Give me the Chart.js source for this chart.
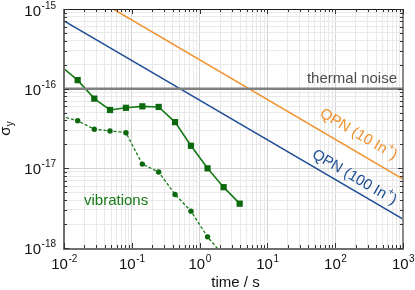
<!DOCTYPE html>
<html><head><meta charset="utf-8">
<script src="https://cdn.jsdelivr.net/npm/chart.js@4"></script>
<style>html,body{margin:0;padding:0;background:#fff;overflow:hidden}#c{display:block}</style>
</head><body>
<canvas id="c" width="415" height="290"></canvas>
<script>
// ---- data ----
const vibTime      = [0.0091, 0.0159, 0.028, 0.0477, 0.082, 0.143, 0.249, 0.434, 0.746, 1.31, 2.26, 3.90];
const vibSolid     = [1.9e-16, 1.28e-16, 7.5e-17, 5.4e-17, 5.75e-17, 6.0e-17, 5.9e-17, 3.8e-17, 1.92e-17, 1.0e-17, 5.8e-18, 3.6e-18];
const vibDashTime  = [0.0091, 0.0159, 0.028, 0.0477, 0.082, 0.143, 0.249, 0.434, 0.746, 1.31, 2.26];
const vibDashed    = [4.5e-17, 3.95e-17, 3.1e-17, 2.95e-17, 2.8e-17, 1.13e-17, 9.0e-18, 4.7e-18, 2.9e-18, 1.38e-18, 8.0e-19];
const qpnTime      = [0.01, 1000];
const qpn10        = [2.3e-15, 7.3e-18];
const qpn100       = [7.1e-16, 2.3e-18];
const thermalTime  = [0.01, 1000];
const thermal      = [1e-16, 1e-16];
const xDecades     = [-2, -1, 0, 1, 2, 3];
const yDecades     = [-18, -17, -16, -15];
const mantissas    = [1, 2, 3, 4, 5, 6, 7, 8, 9];
const xTitle = 'time / s';
const yTitleMain = 'σ', yTitleSub = 'y';
const labelThermal = 'thermal noise';
const labelVib = 'vibrations';
const labelQ10 = ['QPN (10 In', '+', ')'];
const labelQ100 = ['QPN (100 In', '+', ')'];

const GREEN = '#167a16', GREEN_M = '#0c680c', ORANGE = '#f0902c', BLUE = '#1d4d94', GRAY = '#808080';
const FONT = '"Liberation Sans", Arial, Helvetica, sans-serif';

function pts(xs, ys) { return xs.map((x, i) => ({x, y: ys[i]})); }
function tickList(decs) {
  const out = [];
  for (let i = 0; i < decs.length; i++) {
    const d = decs[i];
    if (i === decs.length - 1) { out.push({value: Math.pow(10, d)}); break; }
    mantissas.forEach(m => out.push({value: m * Math.pow(10, d)}));
  }
  return out;
}
function isDecade(v) { const l = Math.log10(v); return Math.abs(l - Math.round(l)) < 1e-6; }

const decor = {
  id: 'decor',
  afterDraw(chart) {
    const ctx = chart.ctx, xs = chart.scales.x, ys = chart.scales.y, a = chart.chartArea;
    ctx.save();
    // frame
    ctx.lineCap = 'butt';
    ctx.strokeStyle = '#707070'; ctx.lineWidth = 2;
    ctx.beginPath(); ctx.moveTo(a.left, a.top); ctx.lineTo(a.left, a.bottom + 1); ctx.lineTo(a.right + 1, a.bottom + 1); ctx.stroke();
    ctx.strokeStyle = '#8a8a8a';
    ctx.beginPath(); ctx.moveTo(a.right + 0, a.top); ctx.lineTo(a.right, a.bottom); ctx.stroke();
    ctx.strokeStyle = '#1a1a1a'; ctx.lineWidth = 1;
    ctx.beginPath(); ctx.moveTo(a.left, a.top + 0.5); ctx.lineTo(a.right + 1, a.top + 0.5); ctx.stroke();
    // inner tick marks
    ctx.strokeStyle = '#333'; ctx.lineWidth = 1;
    ctx.beginPath();
    xs.ticks.forEach(t => {
      const px = Math.round(xs.getPixelForValue(t.value)) + 0.5;
      const L = isDecade(t.value) ? 5 : 3;
      ctx.moveTo(px, a.bottom); ctx.lineTo(px, a.bottom - L);
      ctx.moveTo(px, a.top); ctx.lineTo(px, a.top + L);
    });
    ys.ticks.forEach(t => {
      const py = Math.round(ys.getPixelForValue(t.value)) + 0.5;
      const L = isDecade(t.value) ? 5 : 3;
      ctx.moveTo(a.left, py); ctx.lineTo(a.left + L, py);
      ctx.moveTo(a.right, py); ctx.lineTo(a.right - L, py);
    });
    ctx.stroke();
    // tick labels
    ctx.fillStyle = '#111';
    ctx.textBaseline = 'alphabetic'; ctx.textAlign = 'left';
    xDecades.forEach(d => {
      const px = xs.getPixelForValue(Math.pow(10, d));
      ctx.font = '15px ' + FONT; const w1 = ctx.measureText('10').width;
      ctx.font = '10px ' + FONT; const e = String(d); const w2 = ctx.measureText(e).width;
      const s = px - (w1 + w2) / 2;
      ctx.font = '15px ' + FONT; ctx.fillText('10', s, 269);
      ctx.font = '10px ' + FONT; ctx.fillText(e, s + w1 + 0.5, 262);
    });
    yDecades.forEach(d => {
      const py = ys.getPixelForValue(Math.pow(10, d));
      ctx.font = '10px ' + FONT; const e = String(d); const w2 = ctx.measureText(e).width;
      ctx.font = '15px ' + FONT; const w1 = ctx.measureText('10').width;
      const right = 56;
      const b = Math.max(py + 6, 16);
      ctx.fillText('10', right - w2 - w1 - 0.5, b);
      ctx.font = '10px ' + FONT; ctx.fillText(e, right - w2, b - 7);
    });
    // axis titles
    ctx.font = '15px ' + FONT; ctx.textAlign = 'center';
    ctx.fillText(xTitle, (a.left + a.right) / 2 + 2, 287);
    ctx.save();
    ctx.translate(10, (a.top + a.bottom) / 2);
    ctx.rotate(-Math.PI / 2);
    ctx.textAlign = 'left';
    ctx.font = '15px ' + FONT; const ws = ctx.measureText(yTitleMain).width;
    ctx.font = '10px ' + FONT; const wy = ctx.measureText(yTitleSub).width;
    const st = -(ws + wy) / 2;
    ctx.font = '15px ' + FONT; ctx.fillText(yTitleMain, st, 0);
    ctx.font = '10px ' + FONT; ctx.fillText(yTitleSub, st + ws, 3);
    ctx.restore();
    // annotations
    ctx.font = '15px ' + FONT;
    ctx.fillStyle = '#4d4d4d'; ctx.textAlign = 'right';
    ctx.fillText(labelThermal, a.right - 6, ys.getPixelForValue(1e-16) - 6);
    ctx.fillStyle = GREEN; ctx.textAlign = 'left';
    ctx.fillText(labelVib, xs.getPixelForValue(0.0197), ys.getPixelForValue(3.5e-18));
    function slanted(parts, color, yArr, tAnchor, off) {
      const x1 = xs.getPixelForValue(qpnTime[0]), x2 = xs.getPixelForValue(qpnTime[1]);
      const y1 = ys.getPixelForValue(yArr[0]), y2 = ys.getPixelForValue(yArr[1]);
      const ang = Math.atan2(y2 - y1, x2 - x1);
      const fx = xs.getPixelForValue(tAnchor);
      const fy = y1 + (y2 - y1) * (fx - x1) / (x2 - x1);
      const cx = fx + off * Math.sin(ang), cy = fy - off * Math.cos(ang);
      ctx.save();
      ctx.translate(cx, cy); ctx.rotate(ang);
      ctx.fillStyle = color; ctx.textBaseline = 'middle'; ctx.textAlign = 'left';
      ctx.font = '15px ' + FONT; const w1 = ctx.measureText(parts[0]).width; const w3 = ctx.measureText(parts[2]).width;
      ctx.font = '10px ' + FONT; const w2 = ctx.measureText(parts[1]).width;
      const s = -(w1 + w2 + w3) / 2;
      ctx.font = '15px ' + FONT; ctx.fillText(parts[0], s, 0);
      ctx.font = '10px ' + FONT; ctx.fillText(parts[1], s + w1 + 0.5, -6);
      ctx.font = '15px ' + FONT; ctx.fillText(parts[2], s + w1 + w2 + 1, 0);
      ctx.restore();
    }
    slanted(labelQ10, ORANGE, qpn10, 165, 16);
    slanted(labelQ100, BLUE, qpn100, 155, 11.5);
    ctx.restore();
  }
};

new Chart(document.getElementById('c'), {
  type: 'scatter',
  data: {
    datasets: [
      {data: pts(thermalTime, thermal), showLine: true, borderColor: GRAY, borderWidth: 2.5, pointRadius: 0},
      {data: pts(qpnTime, qpn10), showLine: true, borderColor: ORANGE, borderWidth: 1.5, pointRadius: 0},
      {data: pts(qpnTime, qpn100), showLine: true, borderColor: BLUE, borderWidth: 1.5, pointRadius: 0},
      {data: pts(vibDashTime, vibDashed), showLine: true, borderColor: GREEN, borderWidth: 1.3, borderDash: [3, 2],
       pointStyle: 'circle', pointRadius: vibDashTime.map((t, i) => i === 0 ? 0 : 2.7),
       pointBackgroundColor: GREEN_M, pointBorderColor: GREEN_M, pointBorderWidth: 0},
      {data: pts(vibTime, vibSolid), showLine: true, borderColor: GREEN, borderWidth: 1.6,
       pointStyle: 'rect', pointRadius: vibTime.map((t, i) => i === 0 ? 0 : 4.4),
       pointBackgroundColor: GREEN_M, pointBorderColor: GREEN_M, pointBorderWidth: 0}
    ]
  },
  options: {
    responsive: false, animation: false, devicePixelRatio: 1,
    layout: {padding: {top: 9, right: 12, left: 0, bottom: 0}},
    plugins: {legend: {display: false}, tooltip: {enabled: false}},
    elements: {line: {tension: 0}},
    scales: {
      x: {
        type: 'logarithmic', min: 0.01, max: 1000, position: 'bottom',
        afterBuildTicks: s => { s.ticks = tickList(xDecades); },
        ticks: {display: false, autoSkip: false},
        grid: {drawTicks: false, color: c => (c.tick && isDecade(c.tick.value)) ? '#d4d4d4' : '#e9e9e9', lineWidth: 1},
        border: {display: false},
        afterFit: s => { s.height = 42; }
      },
      y: {
        type: 'logarithmic', min: 1e-18, max: 1e-15, position: 'left',
        afterBuildTicks: s => { s.ticks = tickList(yDecades); },
        ticks: {display: false, autoSkip: false},
        grid: {drawTicks: false, color: c => (c.tick && isDecade(c.tick.value)) ? '#d4d4d4' : '#e9e9e9', lineWidth: 1},
        border: {display: false},
        afterFit: s => { s.width = 64; }
      }
    }
  },
  plugins: [decor]
});
</script>
</body></html>
